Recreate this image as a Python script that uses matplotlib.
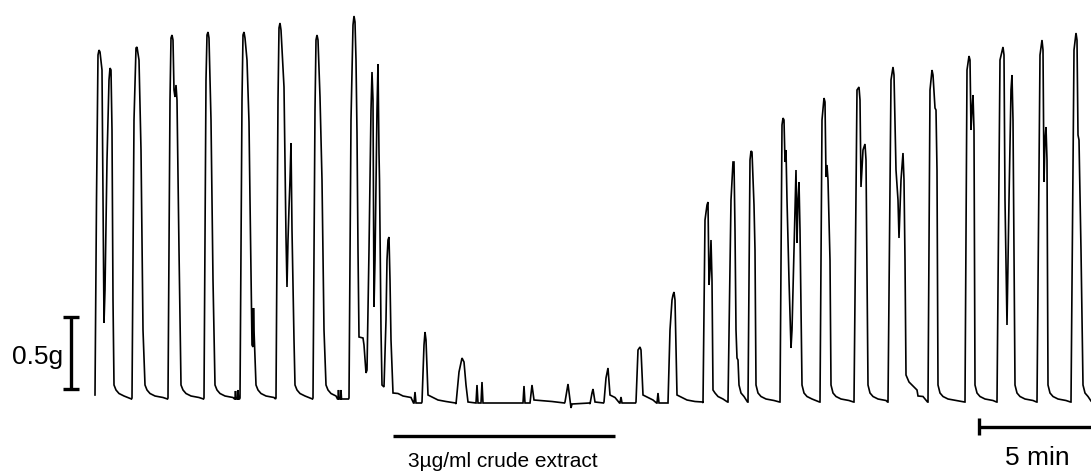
import matplotlib
matplotlib.use("Agg")
import matplotlib.pyplot as plt

plt.rcParams['font.family'] = ['Liberation Sans', 'DejaVu Sans']

# ---- Data (x: time in trace units, y: chart units, down = baseline) ----
# Each beat is a list of (x, y) vertices from onset to the foot of the fall.
beats_left = [
    [(95, 395), (96.5, 200), (98, 55), (99, 50), (100, 52), (102, 70), (103, 200), (104, 323), (105, 290),
     (107, 160), (109, 80), (110, 68), (111, 70), (112, 130), (113, 300), (114, 385)],
    [(132, 398), (134, 120), (136, 48), (137, 47), (139, 60), (141, 150), (143, 330), (145, 385)],
    [(168, 398), (170, 100), (171, 38), (172, 35), (173, 40), (174, 90), (175, 97), (176, 85), (177, 100),
     (179, 250), (181, 385)],
    [(204, 398), (206, 80), (207, 35), (208, 32), (209, 38), (211, 120), (213, 280), (215, 385)],
    [(235, 399), (235.5, 391), (236, 399), (237.5, 399), (238, 390), (238.5, 399)],
    [(240, 398), (242, 100), (243, 35), (244, 32), (245, 38), (247, 60), (249, 122), (250, 200), (252, 345),
     (253, 347), (253.5, 308), (254, 330), (256, 385)],
    [(276, 398), (278, 100), (279, 28), (280, 23), (281, 30), (284, 87), (285, 160), (286, 237), (287, 287),
     (288, 240), (289, 208), (290, 180), (291, 143), (292, 230), (294, 340), (295, 385)],
    [(313, 398), (315, 110), (316, 40), (317, 35), (318, 40), (320, 97), (322, 180), (324, 330), (326, 385)],
    [(338, 399), (338.5, 390), (339, 399), (340.5, 399), (341, 390), (341.5, 399)],
    [(349, 398), (351, 120), (353, 25), (354, 16), (355, 22), (356, 60), (357, 133), (358, 250), (359, 337),
     (363, 338), (364, 345), (366, 373), (367, 370), (369, 250), (371, 110), (372, 72), (373, 100),
     (374, 307), (375, 260), (377, 110), (378, 64), (379, 153), (379.5, 180), (381, 330), (382, 385),
     (384, 387), (386, 320), (387, 260), (388, 240), (389, 237), (390, 280), (391, 340), (393, 393)],
]

beats_middle = [
    [(414, 403), (415, 392), (416, 403)],
    [(422, 402), (424, 345), (425, 332), (426, 340), (428, 395)],
    [(456, 404), (459, 372), (462, 358), (464, 362), (466, 385), (468, 402)],
    [(476, 403), (477, 385), (478, 403)],
    [(481, 403), (482, 382), (483, 403)],
    [(523, 403), (524, 386), (525, 403)],
    [(530, 403), (532, 385), (534, 400)],
    [(565, 402), (567, 390), (568, 384), (570, 400), (571, 408), (572, 404)],
    [(590, 404), (592, 393), (593, 389), (595, 402)],
    [(604, 402), (606, 378), (608, 368), (610, 395)],
    [(620, 403), (621, 397), (622, 403)],
    [(636, 402), (638, 350), (640, 347), (641, 350), (643, 395)],
    [(657, 403), (658, 393), (659, 403)],
    [(668, 403), (670, 330), (672, 300), (673, 295), (674, 292), (675, 300), (677, 395)],
]

beats_right = [
    [(703, 403), (705, 220), (707, 205), (708, 202), (709, 285), (710, 270), (711, 240), (712, 280),
     (713, 390)],
    [(728, 402), (731, 200), (733, 162), (734, 162), (735, 230), (736, 330), (737, 358), (738, 360),
     (739, 385)],
    [(748, 402), (750, 160), (751, 151), (752, 152), (754, 205), (755, 250), (756, 385)],
    [(780, 402), (782, 125), (783, 118), (784, 120), (785, 162), (786, 150), (787, 200), (789, 280),
     (791, 348), (792, 330), (794, 250), (796, 170), (797, 243), (798, 200), (799, 182), (800, 230),
     (802, 385)],
    [(820, 402), (822, 120), (824, 98), (825, 102), (826, 177), (827, 165), (828, 180), (830, 260),
     (831, 385)],
    [(854, 402), (857, 90), (859, 87), (860, 100), (861, 187), (863, 150), (865, 144), (866, 160),
     (868, 385)],
    [(888, 402), (891, 80), (893, 67), (894, 75), (896, 170), (898, 200), (899, 238), (901, 180),
     (903, 153), (904, 180), (905, 260), (906, 375), (909, 382), (917, 390), (918, 396)],
    [(928, 402), (930, 90), (932, 70), (933, 75), (935, 108), (936, 110), (937, 170), (938, 385)],
    [(965, 402), (967, 70), (969, 56), (970, 60), (971, 130), (972, 110), (973, 95), (974, 130),
     (975, 385)],
    [(997, 402), (1000, 60), (1003, 47), (1004, 55), (1005, 200), (1007, 325), (1009, 200), (1011, 90),
     (1012, 75), (1013, 120), (1015, 385)],
    [(1037, 402), (1040, 55), (1042, 40), (1043, 50), (1044, 182), (1045, 140), (1046, 127), (1047, 160),
     (1048, 385)],
    [(1071, 402), (1074, 50), (1076, 33), (1077, 40), (1078, 135), (1079, 140), (1081, 250), (1083, 385)],
]

baseline_left = 399
baseline_middle = 403
baseline_right = 402
trace_end_x = 1091

# scale bars and labels
force_bar = (317, 389)       # 0.5 g
force_label = "0.5g"
time_bar = (979, 1100)       # 5 min
time_label = "5 min"
drug_bar = (393, 615)
drug_label = "3\u00b5g/ml crude extract"

# ---- Build trace ----
tail_steps = [(2, 9), (5, 5.5), (10, 3), (18, 1.5)]

groups = [(beats_left, baseline_left), (beats_middle, baseline_middle), (beats_right, baseline_right)]
all_beats = []
for beats, b in groups:
    for bt in beats:
        all_beats.append((bt, b))

xs, ys = [], []
for i, (bt, b) in enumerate(all_beats):
    for (x, y) in bt:
        xs.append(x)
        ys.append(y)
    next_x = all_beats[i + 1][0][0][0] if i + 1 < len(all_beats) else trace_end_x
    x_last, y_last = bt[-1]
    for dx, dy in tail_steps:
        if b - dy > y_last and x_last + dx < next_x - 1:
            xs.append(x_last + dx)
            ys.append(b - dy)
    if i + 1 < len(all_beats):
        nb = all_beats[i + 1][1]
        xs.append(next_x - 0.5)
        ys.append(nb)
    else:
        xs.append(trace_end_x)
        ys.append(b - 1)

fig = plt.figure(figsize=(10.91, 4.72), dpi=100)
ax = fig.add_axes([0, 0, 1, 1])
ax.set_xlim(0, 1091)
ax.set_ylim(472, 0)
ax.axis('off')

ax.plot(xs, ys, color='black', lw=1.2, solid_joinstyle='miter')

# force scale bar
ax.plot([70.5, 70.5], force_bar, color='black', lw=2.4, solid_capstyle='butt')
for yy in force_bar:
    ax.plot([63, 79], [yy, yy], color='black', lw=2.4, solid_capstyle='butt')
ax.text(63, 364, force_label, ha='right', va='baseline', fontsize=19)

# drug application bar
ax.plot(drug_bar, [436, 436], color='black', lw=2.4, solid_capstyle='butt')
ax.text(sum(drug_bar) / 2 - 1, 467, drug_label, ha='center', va='baseline', fontsize=15)

# time scale bar
ax.plot(time_bar, [427, 427], color='black', lw=2.4, solid_capstyle='butt')
ax.plot([time_bar[0], time_bar[0]], [418, 435], color='black', lw=2.4, solid_capstyle='butt')
ax.text(1037, 465, time_label, ha='center', va='baseline', fontsize=19)

fig.savefig("out.png", dpi=100)
